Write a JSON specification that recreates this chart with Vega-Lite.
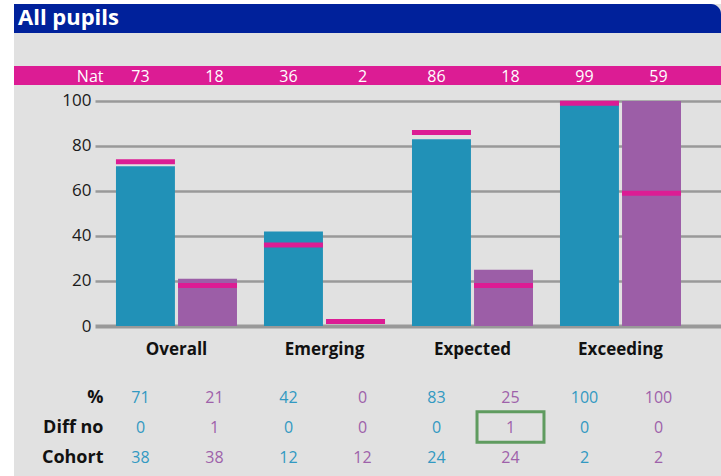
{
  "$schema": "https://vega.github.io/schema/vega-lite/v6.json",
  "background": "#e1e1e1",
  "padding": 0,
  "spacing": 0,
  "config": {
    "view": {"stroke": null},
    "font": "Open Sans",
    "text": {"font": "Open Sans"},
    "axis": {"labelFont": "Open Sans"}
  },
  "datasets": {
    "cols": [
      {"col": 1, "group": "Overall", "series": "Series 1", "pct": 71, "nat": 73, "diff": 0, "cohort": 38},
      {"col": 2, "group": "Overall", "series": "Series 2", "pct": 21, "nat": 18, "diff": 1, "cohort": 38},
      {"col": 3, "group": "Emerging", "series": "Series 1", "pct": 42, "nat": 36, "diff": 0, "cohort": 12},
      {"col": 4, "group": "Emerging", "series": "Series 2", "pct": 0, "nat": 2, "diff": 0, "cohort": 12},
      {"col": 5, "group": "Expected", "series": "Series 1", "pct": 83, "nat": 86, "diff": 0, "cohort": 24},
      {"col": 6, "group": "Expected", "series": "Series 2", "pct": 25, "nat": 18, "diff": 1, "cohort": 24},
      {"col": 7, "group": "Exceeding", "series": "Series 1", "pct": 100, "nat": 99, "diff": 0, "cohort": 2},
      {"col": 8, "group": "Exceeding", "series": "Series 2", "pct": 100, "nat": 59, "diff": 0, "cohort": 2}
    ],
    "rowlabels": [
      {"col": 0, "key": "pct", "label": "%"},
      {"col": 0, "key": "diff", "label": "Diff no"},
      {"col": 0, "key": "cohort", "label": "Cohort"}
    ],
    "highlight": [
      {"col": 6, "key": "diff"}
    ]
  },
  "hconcat": [
    {
      "width": 14,
      "height": 476,
      "data": {"values": [{}]},
      "mark": {"type": "rect", "color": "#ffffff"},
      "encoding": {
        "x": {"datum": 0, "type": "quantitative", "scale": {"domain": [0, 1]}, "axis": null},
        "x2": {"datum": 1}
      }
    },
    {
      "spacing": 0,
      "resolve": {"scale": {"x": "independent", "y": "independent", "color": "independent"}},
      "vconcat": [
        {
          "width": 707,
          "height": 4,
          "data": {"values": [{}]},
          "mark": {"type": "rect", "color": "#ffffff"},
          "encoding": {
            "x": {"datum": 0, "type": "quantitative", "scale": {"domain": [0, 1]}, "axis": null},
            "x2": {"datum": 1}
          }
        },
        {
          "width": 707,
          "height": 29,
          "data": {"values": [{"label": "All pupils"}]},
          "layer": [
            {
              "mark": {"type": "rect", "color": "#00219b", "cornerRadiusTopRight": 10},
              "encoding": {
                "x": {"datum": 0, "type": "quantitative", "scale": {"domain": [0, 1]}, "axis": null},
                "x2": {"datum": 1}
              }
            },
            {
              "mark": {"type": "text", "align": "left", "baseline": "alphabetic", "dx": 4, "dy": 6, "fontSize": 22, "fontWeight": "bold", "color": "#ffffff"},
              "encoding": {
                "x": {"datum": 0, "type": "quantitative", "axis": null},
                "text": {"field": "label"}
              }
            }
          ]
        },
        {
          "width": 707,
          "height": 33,
          "data": {"values": [{}]},
          "mark": {"type": "text", "text": ""},
          "encoding": {}
        },
        {
          "width": 707,
          "height": 19,
          "view": {"fill": "#dc1c94", "stroke": null},
          "layer": [
            {
              "data": {"name": "cols"},
              "mark": {"type": "text", "color": "#ffffff", "fontSize": 16, "baseline": "middle", "dy": 1},
              "encoding": {
                "x": {"field": "col", "type": "ordinal", "scale": {"type": "band", "domain": [0, 1, 2, 3, 4, 5, 6, 7, 8], "paddingInner": 0, "paddingOuter": 0.277, "align": 0.378}, "axis": null},
                "text": {"field": "nat"}
              }
            },
            {
              "data": {"values": [{"col": 0, "label": "Nat"}]},
              "mark": {"type": "text", "color": "#ffffff", "fontSize": 16, "align": "right", "baseline": "middle", "dy": 1},
              "encoding": {
                "x": {"field": "col", "type": "ordinal", "bandPosition": 1, "axis": null},
                "text": {"field": "label"}
              }
            }
          ]
        },
        {
          "spacing": 0,
          "bounds": "flush",
          "hconcat": [
            {
              "width": 81,
              "height": 241,
              "data": {"values": [{}]},
              "mark": {"type": "text", "text": ""},
              "encoding": {}
            },
            {
              "width": 626,
              "height": 241,
              "data": {"name": "cols"},
              "encoding": {
                "x": {
                  "field": "group",
                  "type": "nominal",
                  "scale": {"domain": ["Overall", "Emerging", "Expected", "Exceeding"], "paddingInner": 0.1824, "paddingOuter": 0.206, "align": 0.344},
                  "axis": {"title": null, "domain": false, "ticks": false, "labelAngle": 0, "labelFontSize": 17, "labelFontWeight": "bold", "labelColor": "#111111", "labelPadding": 15, "minExtent": 52, "maxExtent": 52}
                },
                "xOffset": {"field": "series", "type": "nominal", "scale": {"paddingInner": 0.05, "paddingOuter": 0}}
              },
              "layer": [
                {
                  "mark": {"type": "bar"},
                  "encoding": {
                    "y": {
                      "field": "pct",
                      "type": "quantitative",
                      "scale": {"domain": [0, 107.11], "nice": false},
                      "axis": {
                        "title": null,
                        "values": [0, 20, 40, 60, 80, 100],
                        "grid": true,
                        "gridColor": "#999999",
                        "gridWidth": {"condition": {"test": "datum.value === 0", "value": 4}, "value": 2.5},
                        "domain": false,
                        "ticks": false,
                        "labelFontSize": 17,
                        "labelColor": "#1a1a1a",
                        "labelPadding": 4
                      }
                    },
                    "color": {"field": "series", "type": "nominal", "scale": {"domain": ["Series 1", "Series 2"], "range": ["#2191b7", "#9c5ea7"]}, "legend": null}
                  }
                },
                {
                  "mark": {"type": "tick", "color": "#dc1c94", "opacity": 1, "thickness": 5, "size": 59, "orient": "horizontal"},
                  "encoding": {
                    "y": {"field": "nat", "type": "quantitative"}
                  }
                }
              ]
            }
          ]
        },
        {
          "width": 707,
          "height": 98,
          "layer": [
            {
              "data": {"name": "cols"},
              "transform": [{"fold": ["pct", "diff", "cohort"], "as": ["key", "value"]}],
              "mark": {"type": "text", "fontSize": 16, "baseline": "middle", "dy": 1},
              "encoding": {
                "x": {"field": "col", "type": "ordinal", "scale": {"type": "band", "domain": [0, 1, 2, 3, 4, 5, 6, 7, 8], "paddingInner": 0, "paddingOuter": 0.277, "align": 0.378}, "axis": null},
                "y": {"field": "key", "type": "nominal", "scale": {"type": "band", "domain": ["pct", "diff", "cohort"], "paddingInner": 0, "paddingOuter": 0.161}, "axis": null},
                "text": {"field": "value"},
                "color": {"field": "series", "type": "nominal", "scale": {"domain": ["Series 1", "Series 2"], "range": ["#3299c2", "#9e61aa"]}, "legend": null}
              }
            },
            {
              "data": {"name": "rowlabels"},
              "mark": {"type": "text", "fontSize": 18, "fontWeight": "bold", "align": "right", "baseline": "middle", "dy": 1, "color": "#111111"},
              "encoding": {
                "x": {"field": "col", "type": "ordinal", "bandPosition": 1},
                "y": {"field": "key", "type": "nominal"},
                "text": {"field": "label"}
              }
            },
            {
              "data": {"name": "highlight"},
              "mark": {"type": "rect", "fillOpacity": 0, "stroke": "#5f9b5f", "strokeWidth": 3, "width": {"band": 0.905}, "height": {"band": 1.03}},
              "encoding": {
                "x": {"field": "col", "type": "ordinal"},
                "y": {"field": "key", "type": "nominal"}
              }
            }
          ]
        }
      ]
    }
  ]
}
